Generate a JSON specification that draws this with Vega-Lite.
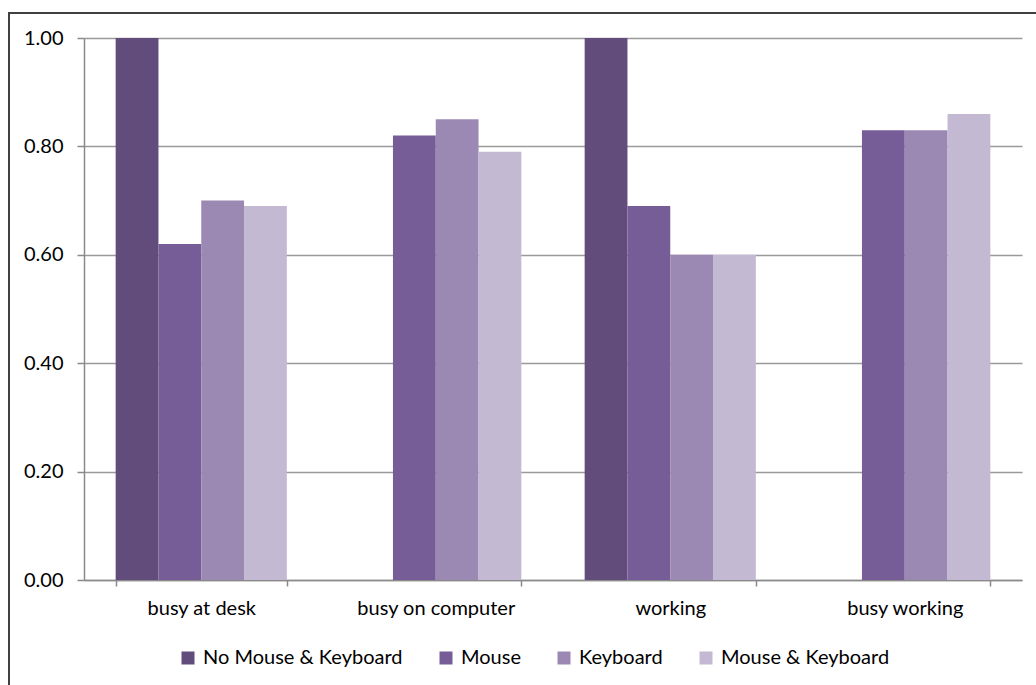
{
  "$schema": "https://vega.github.io/schema/vega-lite/v6.json",
  "width": 1027,
  "height": 672,
  "autosize": {"type": "none"},
  "padding": {"left": 9, "top": 13, "right": 0, "bottom": 0},
  "background": "white",
  "config": {
    "font": "Lato",
    "view": {"stroke": "#404040", "strokeWidth": 2, "strokeDash": [1027, 1699, 672]},
    "axis": {
      "labelColor": "#000000",
      "labelFont": "Lato",
      "labelFontSize": 20,
      "domainColor": "#8a8a8a",
      "domainWidth": 1.5,
      "tickColor": "#8a8a8a",
      "tickWidth": 1.5
    }
  },
  "data": {
    "values": [
      {"activity": "busy at desk", "input": "No Mouse & Keyboard", "score": 1.0},
      {"activity": "busy at desk", "input": "Mouse", "score": 0.62},
      {"activity": "busy at desk", "input": "Keyboard", "score": 0.70},
      {"activity": "busy at desk", "input": "Mouse & Keyboard", "score": 0.69},
      {"activity": "busy on computer", "input": "Mouse", "score": 0.82},
      {"activity": "busy on computer", "input": "Keyboard", "score": 0.85},
      {"activity": "busy on computer", "input": "Mouse & Keyboard", "score": 0.79},
      {"activity": "working", "input": "No Mouse & Keyboard", "score": 1.0},
      {"activity": "working", "input": "Mouse", "score": 0.69},
      {"activity": "working", "input": "Keyboard", "score": 0.60},
      {"activity": "working", "input": "Mouse & Keyboard", "score": 0.60},
      {"activity": "busy working", "input": "Mouse", "score": 0.83},
      {"activity": "busy working", "input": "Keyboard", "score": 0.83},
      {"activity": "busy working", "input": "Mouse & Keyboard", "score": 0.86}
    ]
  },
  "mark": {"type": "bar"},
  "encoding": {
    "x": {
      "field": "activity",
      "type": "nominal",
      "sort": ["busy at desk", "busy on computer", "working", "busy working"],
      "scale": {"range": [75, 1013], "paddingInner": 0.27, "paddingOuter": 0.135},
      "axis": {
        "title": null,
        "orient": "bottom",
        "offset": -105,
        "tickBand": "extent",
        "labelAngle": 0,
        "tickSize": 6,
        "labelPadding": 12,
        "grid": false
      }
    },
    "xOffset": {
      "field": "input",
      "type": "nominal",
      "sort": ["No Mouse & Keyboard", "Mouse", "Keyboard", "Mouse & Keyboard"],
      "scale": {"paddingInner": 0, "paddingOuter": 0}
    },
    "y": {
      "field": "score",
      "type": "quantitative",
      "scale": {"domain": [0, 1], "range": [567, 25], "nice": false},
      "axis": {
        "title": null,
        "orient": "left",
        "offset": -75,
        "values": [0, 0.2, 0.4, 0.6, 0.8, 1],
        "format": ".2f",
        "tickSize": 7,
        "labelPadding": 14,
        "grid": true,
        "gridColor": "#9a9a9a",
        "gridWidth": 1.5
      }
    },
    "color": {
      "field": "input",
      "type": "nominal",
      "scale": {
        "domain": ["No Mouse & Keyboard", "Mouse", "Keyboard", "Mouse & Keyboard"],
        "range": ["#624c7c", "#775d97", "#9b88b3", "#c3b9d3"]
      },
      "legend": {
        "orient": "none",
        "legendX": 169,
        "legendY": 635,
        "direction": "horizontal",
        "title": null,
        "symbolType": "square",
        "symbolSize": 169,
        "symbolStrokeWidth": 0,
        "symbolOpacity": 1,
        "labelFontSize": 20,
        "labelColor": "#000000",
        "labelLimit": 400,
        "labelOffset": 5,
        "columnPadding": 33,
        "padding": 0
      }
    }
  }
}
